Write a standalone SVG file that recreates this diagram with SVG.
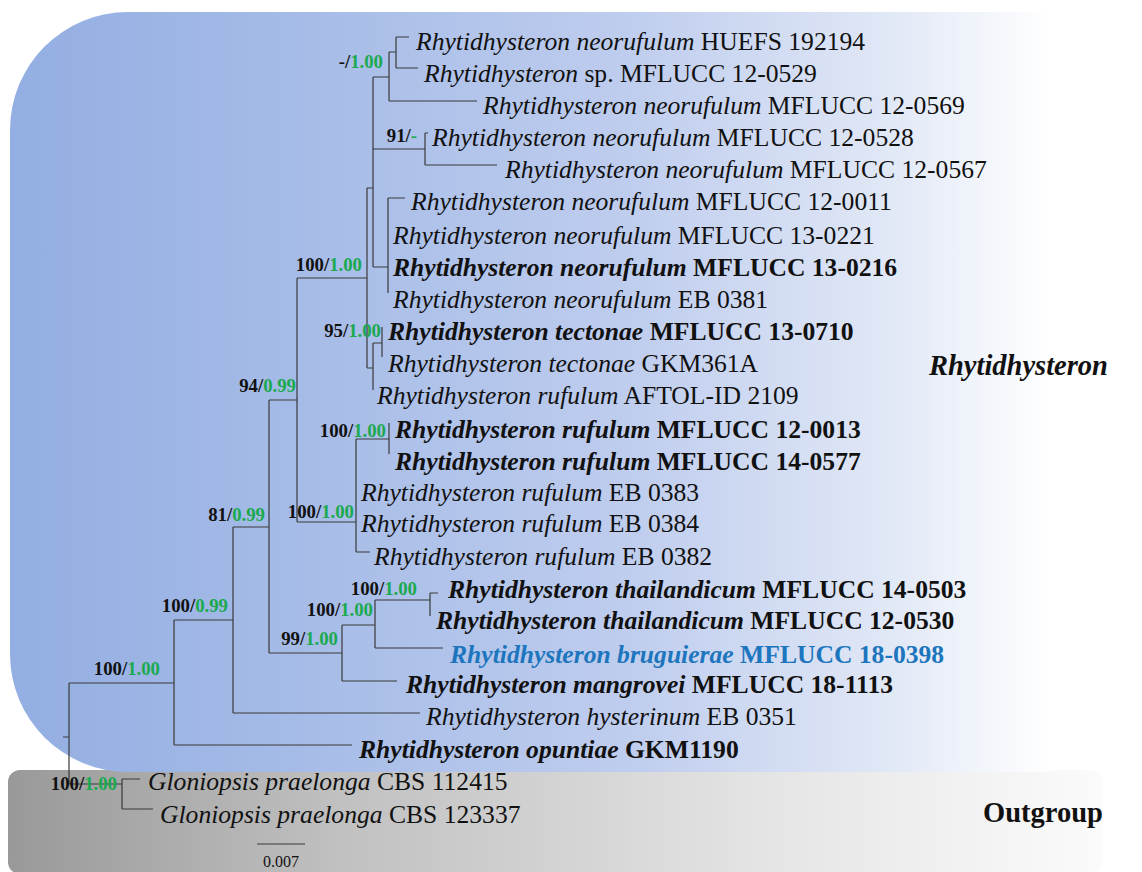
<svg xmlns="http://www.w3.org/2000/svg" width="1142" height="872" viewBox="0 0 1142 872">
  <defs>
    <linearGradient id="ingroupFill" x1="10" y1="0" x2="1142" y2="0" gradientUnits="userSpaceOnUse">
      <stop offset="0" stop-color="#93aee2"/>
      <stop offset="0.3" stop-color="#a9bee8"/>
      <stop offset="0.55" stop-color="#bfcdee"/>
      <stop offset="0.78" stop-color="#e1e8f6"/>
      <stop offset="0.92" stop-color="#ffffff"/>
    </linearGradient>
    <linearGradient id="outgroupFill" x1="8" y1="0" x2="1103" y2="0" gradientUnits="userSpaceOnUse">
      <stop offset="0" stop-color="#999999"/>
      <stop offset="0.3" stop-color="#c0c0c0"/>
      <stop offset="0.7" stop-color="#e5e5e5"/>
      <stop offset="1" stop-color="#fbfbfb"/>
    </linearGradient>
    <style>
      .tip { font-family: "Liberation Serif", "Times New Roman", serif; font-size: 25.6px; fill: #111; }
      .tip .i { font-style: italic; }
      .tip.b { font-weight: bold; }
      .tip.blue { fill: #1d76bd; }
      .sup { font-family: "Liberation Serif", "Times New Roman", serif; font-size: 18.8px; font-weight: bold; fill: #111; text-anchor: end; }
      .sup .pp { fill: #1ba94f; }
      .clade { font-family: "Liberation Serif", "Times New Roman", serif; font-size: 28.5px; font-weight: bold; fill: #111; }
      .edge { fill: none; stroke: #3a3a3a; stroke-width: 1.2; }
      .scale { font-family: "Liberation Serif", "Times New Roman", serif; font-size: 16px; fill: #111; text-anchor: middle; }
    </style>
  </defs>

  <rect width="1142" height="872" fill="#ffffff"/>

  <!-- clade panels -->
  <g id="panels">
    <rect x="8" y="770" width="1095" height="104" rx="12" fill="url(#outgroupFill)"/>
    <rect x="10" y="12" width="1142" height="760" rx="118" fill="url(#ingroupFill)"/>
  </g>

  <!-- branches -->
  <g id="connectors" class="edge">
    <!-- root -->
    <path d="M63 737H69M69 683V784M69 683H174M69 784H122"/>
    <!-- Gloniopsis -->
    <path d="M122 779V809M122 779H140M122 809H153"/>
    <!-- ingroup backbone -->
    <path d="M174 620V745M174 620H233M174 745H352"/>
    <path d="M233 527V713M233 527H269M233 713H420"/>
    <path d="M269 400V653M269 400H297M269 653H342"/>
    <path d="M342 625V681M342 625H375M342 681H397"/>
    <path d="M375 600V648M375 600H430M375 648H443"/>
    <path d="M430 593V616M430 593H438"/>
    <path d="M297 278V522M297 278H367M297 522H356"/>
    <!-- rufulum -->
    <path d="M356 439V552M356 439H389M356 552H370"/>
    <path d="M389 423V454"/>
    <!-- neorufulum / tectonae -->
    <path d="M367 188V368M367 188H373M367 368H373"/>
    <path d="M373 77V267M373 77H389M373 149H425M373 267H388"/>
    <path d="M389 52V101M389 52H396M389 101H477"/>
    <path d="M396 37V68M396 37H409M396 68H418"/>
    <path d="M425 133V165M425 133H428M425 165H497"/>
    <path d="M388 198V293M388 198H405"/>
    <path d="M373 343V390M373 343H382"/>
    <path d="M382 327V357"/>
  </g>

  <!-- support values (ML bootstrap / Bayesian PP) -->
  <g id="support">
    <text class="sup" x="383" y="68">-/<tspan class="pp">1.00</tspan></text>
    <text class="sup" x="417" y="142">91/<tspan class="pp">-</tspan></text>
    <text class="sup" x="362" y="271">100/<tspan class="pp">1.00</tspan></text>
    <text class="sup" x="381" y="337">95/<tspan class="pp">1.00</tspan></text>
    <text class="sup" x="296" y="392">94/<tspan class="pp">0.99</tspan></text>
    <text class="sup" x="386" y="437">100/<tspan class="pp">1.00</tspan></text>
    <text class="sup" x="354" y="518">100/<tspan class="pp">1.00</tspan></text>
    <text class="sup" x="265" y="521">81/<tspan class="pp">0.99</tspan></text>
    <text class="sup" x="417" y="595">100/<tspan class="pp">1.00</tspan></text>
    <text class="sup" x="373" y="616">100/<tspan class="pp">1.00</tspan></text>
    <text class="sup" x="338" y="645">99/<tspan class="pp">1.00</tspan></text>
    <text class="sup" x="228" y="612">100/<tspan class="pp">0.99</tspan></text>
    <text class="sup" x="160" y="675">100/<tspan class="pp">1.00</tspan></text>
    <text class="sup" x="117" y="790">100/<tspan class="pp">1.00</tspan></text>
  </g>

  <!-- taxa -->
  <g id="tip-neorufulum-huefs192194"><text class="tip" x="416" y="50"><tspan class="i">Rhytidhysteron neorufulum</tspan> HUEFS 192194</text></g>
  <g id="tip-sp-mflucc120529"><text class="tip" x="424" y="82"><tspan class="i">Rhytidhysteron</tspan> sp. MFLUCC 12-0529</text></g>
  <g id="tip-neorufulum-mflucc120569"><text class="tip" x="483" y="114"><tspan class="i">Rhytidhysteron neorufulum</tspan> MFLUCC 12-0569</text></g>
  <g id="tip-neorufulum-mflucc120528"><text class="tip" x="432" y="146"><tspan class="i">Rhytidhysteron neorufulum</tspan> MFLUCC 12-0528</text></g>
  <g id="tip-neorufulum-mflucc120567"><text class="tip" x="505" y="178"><tspan class="i">Rhytidhysteron neorufulum</tspan> MFLUCC 12-0567</text></g>
  <g id="tip-neorufulum-mflucc120011"><text class="tip" x="411" y="210"><tspan class="i">Rhytidhysteron neorufulum</tspan> MFLUCC 12-0011</text></g>
  <g id="tip-neorufulum-mflucc130221"><text class="tip" x="393" y="244"><tspan class="i">Rhytidhysteron neorufulum</tspan> MFLUCC 13-0221</text></g>
  <g id="tip-neorufulum-mflucc130216"><text class="tip b" x="393" y="276"><tspan class="i">Rhytidhysteron neorufulum</tspan> MFLUCC 13-0216</text></g>
  <g id="tip-neorufulum-eb0381"><text class="tip" x="393" y="308"><tspan class="i">Rhytidhysteron neorufulum</tspan> EB 0381</text></g>
  <g id="tip-tectonae-mflucc130710"><text class="tip b" x="388" y="340"><tspan class="i">Rhytidhysteron tectonae</tspan> MFLUCC 13-0710</text></g>
  <g id="tip-tectonae-gkm361a"><text class="tip" x="388" y="372"><tspan class="i">Rhytidhysteron tectonae</tspan> GKM361A</text></g>
  <g id="tip-rufulum-aftol2109"><text class="tip" x="377" y="404"><tspan class="i">Rhytidhysteron rufulum</tspan> AFTOL-ID 2109</text></g>
  <g id="tip-rufulum-mflucc120013"><text class="tip b" x="395" y="438"><tspan class="i">Rhytidhysteron rufulum</tspan> MFLUCC 12-0013</text></g>
  <g id="tip-rufulum-mflucc140577"><text class="tip b" x="395" y="470"><tspan class="i">Rhytidhysteron rufulum</tspan> MFLUCC 14-0577</text></g>
  <g id="tip-rufulum-eb0383"><text class="tip" x="361" y="501"><tspan class="i">Rhytidhysteron rufulum</tspan> EB 0383</text></g>
  <g id="tip-rufulum-eb0384"><text class="tip" x="361" y="532"><tspan class="i">Rhytidhysteron rufulum</tspan> EB 0384</text></g>
  <g id="tip-rufulum-eb0382"><text class="tip" x="374" y="565"><tspan class="i">Rhytidhysteron rufulum</tspan> EB 0382</text></g>
  <g id="tip-thailandicum-mflucc140503"><text class="tip b" x="448" y="598"><tspan class="i">Rhytidhysteron thailandicum</tspan> MFLUCC 14-0503</text></g>
  <g id="tip-thailandicum-mflucc120530"><text class="tip b" x="436" y="629"><tspan class="i">Rhytidhysteron thailandicum</tspan> MFLUCC 12-0530</text></g>
  <g id="tip-bruguierae-mflucc180398"><text class="tip b blue" x="450" y="663"><tspan class="i">Rhytidhysteron bruguierae</tspan> MFLUCC 18-0398</text></g>
  <g id="tip-mangrovei-mflucc181113"><text class="tip b" x="406" y="693"><tspan class="i">Rhytidhysteron mangrovei</tspan> MFLUCC 18-1113</text></g>
  <g id="tip-hysterinum-eb0351"><text class="tip" x="426" y="725"><tspan class="i">Rhytidhysteron hysterinum</tspan> EB 0351</text></g>
  <g id="tip-opuntiae-gkm1190"><text class="tip b" x="359" y="758"><tspan class="i">Rhytidhysteron opuntiae</tspan> GKM1190</text></g>
  <g id="tip-gloniopsis-cbs112415"><text class="tip" x="148" y="790"><tspan class="i">Gloniopsis praelonga</tspan> CBS 112415</text></g>
  <g id="tip-gloniopsis-cbs123337"><text class="tip" x="160" y="823"><tspan class="i">Gloniopsis praelonga</tspan> CBS 123337</text></g>

  <!-- clade names -->
  <g id="clade-rhytidhysteron"><text class="clade" x="929" y="375" font-style="italic">Rhytidhysteron</text></g>
  <g id="clade-outgroup"><text class="clade" x="983" y="822">Outgroup</text></g>

  <!-- scale bar -->
  <g id="scale-bar">
    <line x1="257" y1="844" x2="305" y2="844" stroke="#3a3a3a" stroke-width="1.2"/>
    <text class="scale" x="281" y="867">0.007</text>
  </g>
</svg>
